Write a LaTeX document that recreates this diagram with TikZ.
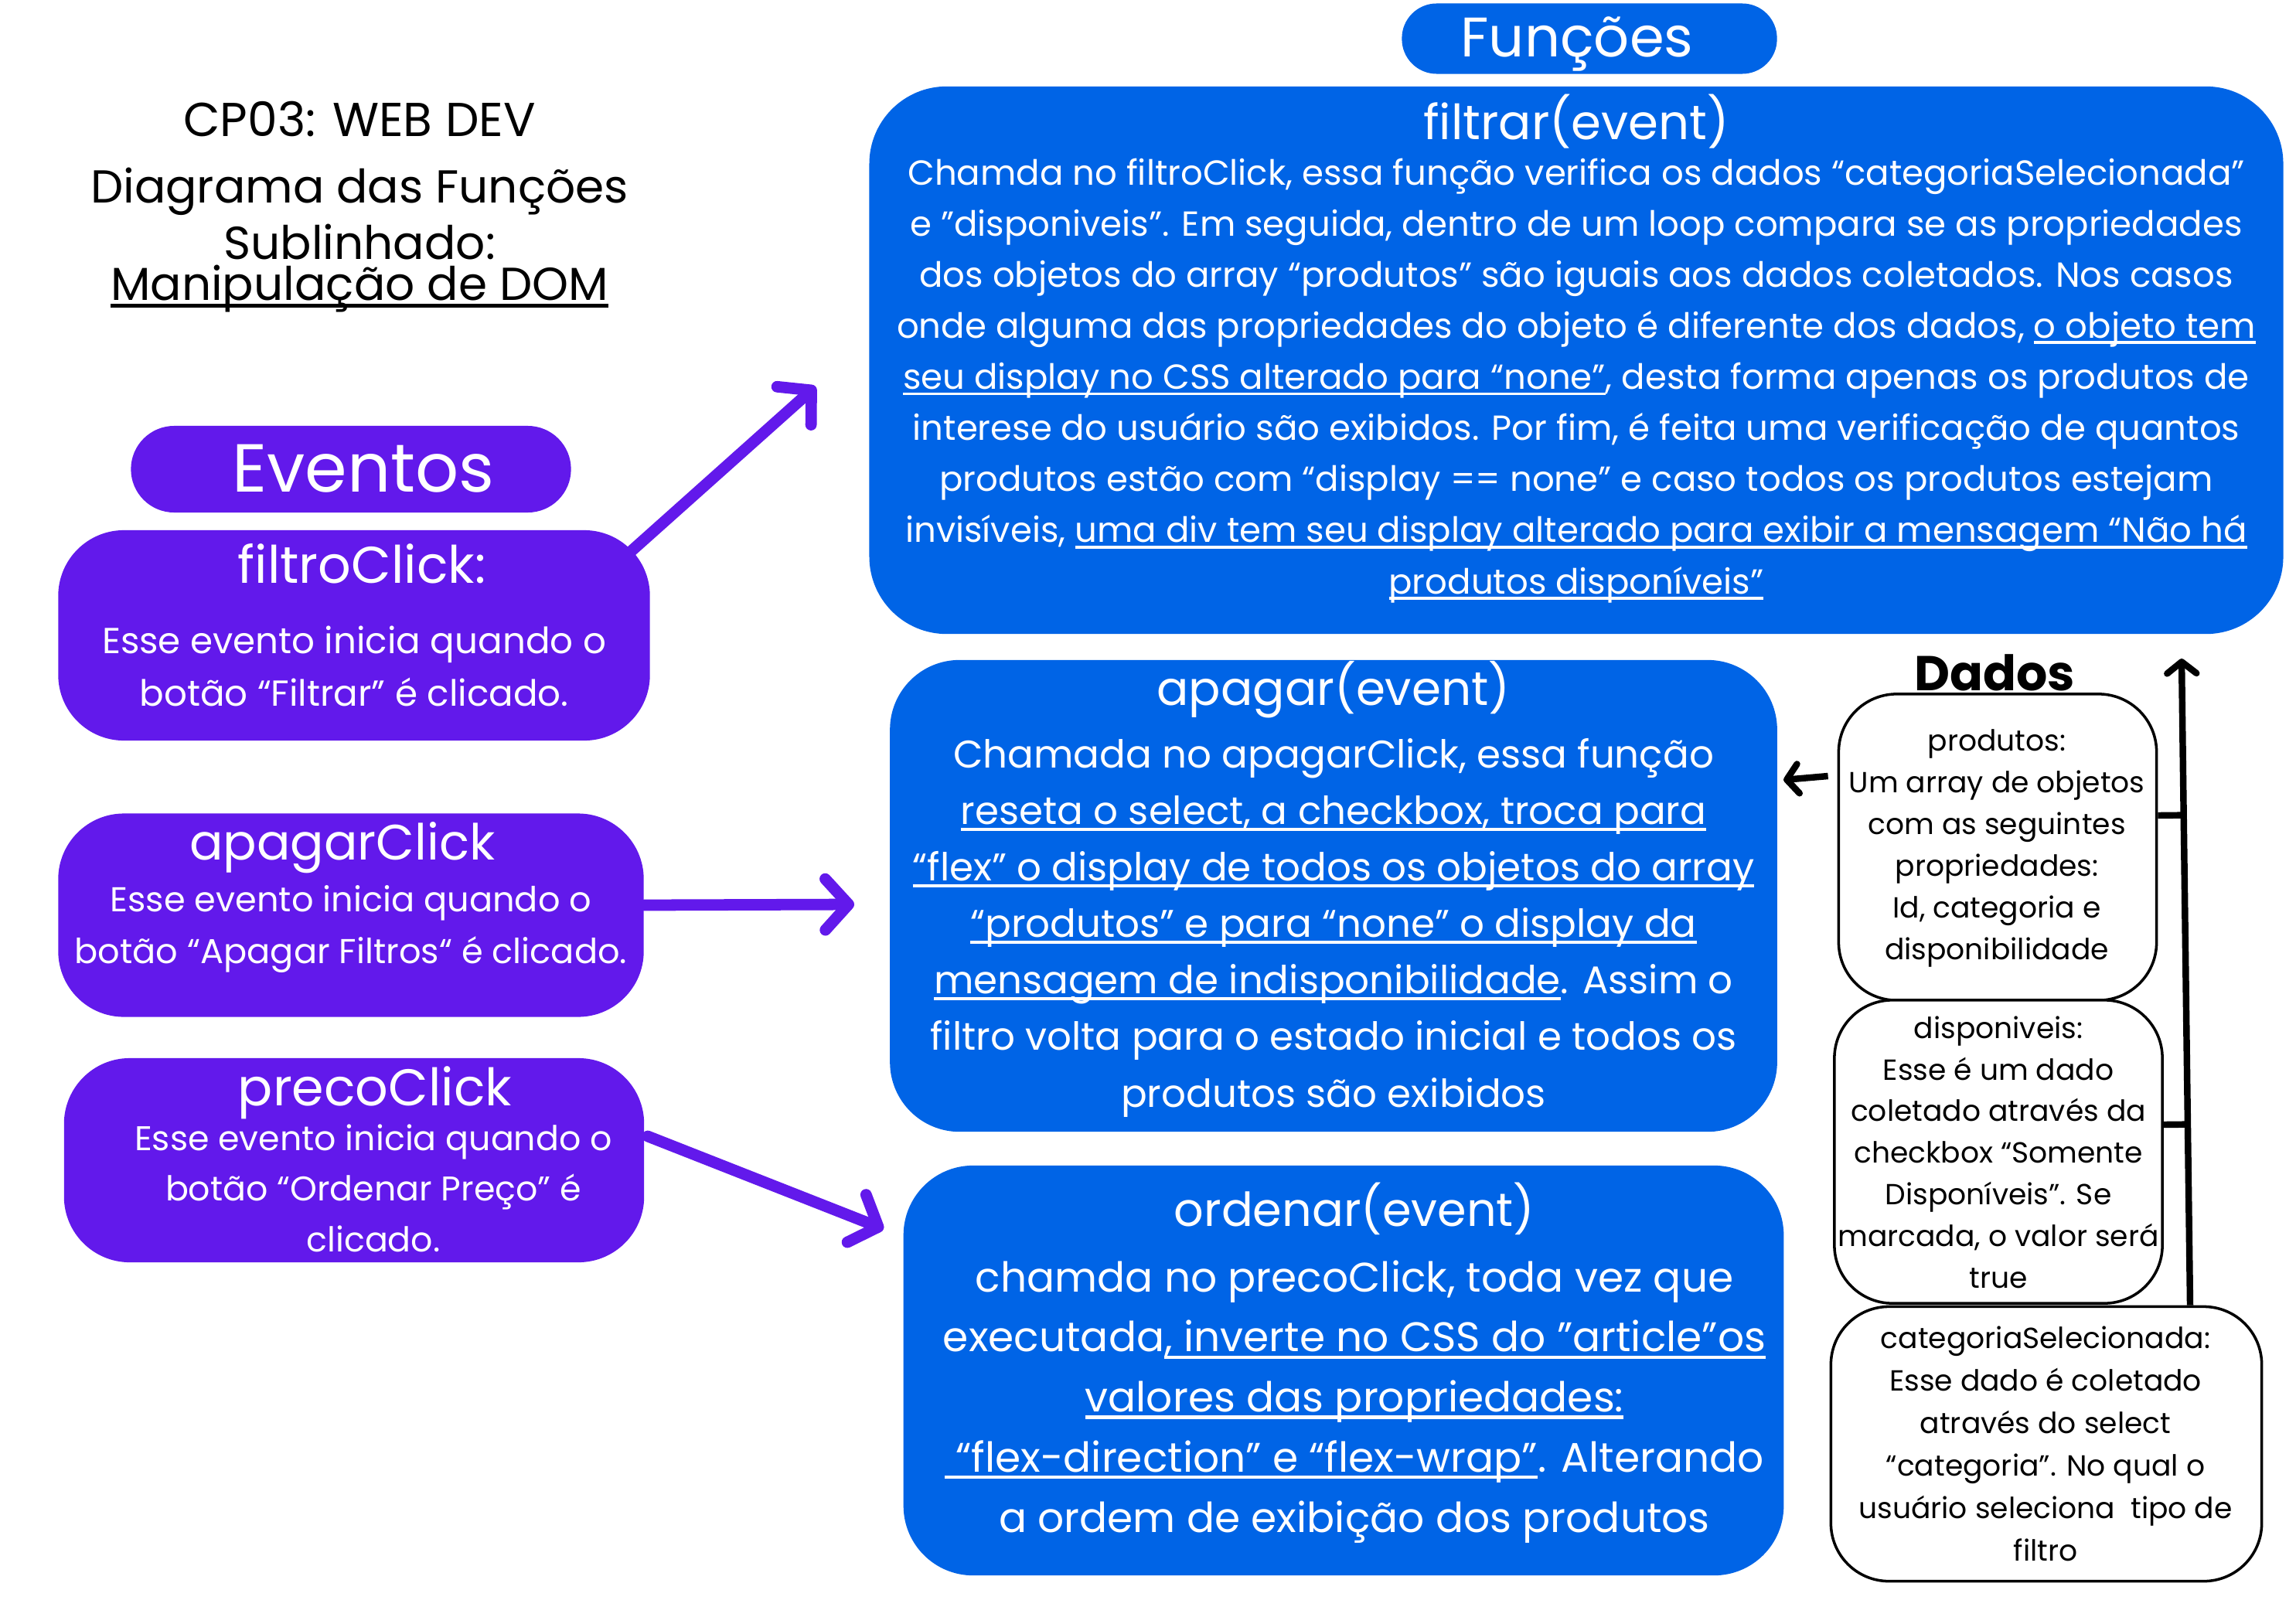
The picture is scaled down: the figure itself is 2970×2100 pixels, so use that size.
\documentclass[tikz,border=0pt]{standalone}
\usepackage{fontspec}
\setmainfont{Poppins}
\usetikzlibrary{arrows.meta,calc}
\definecolor{fblue}{HTML}{0064E6}
\definecolor{epurple}{HTML}{6219EB}
\newcommand\fs[2]{\fontsize{#1pt}{#2pt}\selectfont}
\newcommand\ul[1]{\leavevmode\setbox0=\hbox{#1}\rlap{\vrule width\wd0 height -0.09em depth 0.17em}\box0}
\begin{document}
\begin{tikzpicture}[x=0.01cm,y=-0.01cm,
  bluebox/.style={rectangle,fill=fblue,draw=none,rounded corners=#1,inner sep=0pt},
  purplebox/.style={rectangle,fill=epurple,draw=none,rounded corners=#1,inner sep=0pt},
  databox/.style={rectangle,fill=white,draw=black,line width=1pt,rounded corners=0.75cm,inner sep=0pt},
  wtxt/.style={text=white,align=center,inner sep=0pt,anchor=base},
  btxt/.style={text=black,align=center,inner sep=0pt,anchor=base},
  parrow/.style={draw=epurple,line width=4.2pt,line cap=round,-{Straight Barb[length=0.3cm,width=0.66cm,round]}},
  karrow/.style={draw=black,line width=2.4pt,-{Straight Barb[length=0.15cm,width=0.38cm,round]}},
  kline/.style={draw=black,line width=2.4pt}]
\fill[white] (0,0) rectangle (2970,2100);
\useasboundingbox (0,0) rectangle (2970,2100);

% title (anchor base = last line baseline)
\node[btxt,font=\fs{17.5}{20}] (t1) at (465,176) {CP03: WEB DEV};
\node[btxt,font=\fs{17}{20}] (t2) at (465,262) {Diagrama das Funções};
\node[btxt,font=\fs{17}{20}] (t3) at (465,335) {Sublinhado:};
\node[btxt,font=\fs{17}{20}] (t4) at (465,388) {\ul{Manipulação de DOM}};

% Funcoes
\node[bluebox=0.45cm,minimum width=4.85cm,minimum height=0.91cm] (funcoes) at (2056,50) {};
\node[wtxt,font=\fs{20.5}{24}] (funcoesT) at (2040,74) {Funções};

\node[bluebox=1cm,minimum width=18.28cm,minimum height=7.08cm] (filtrar) at (2039,466) {};
\node[wtxt,font=\fs{17.8}{20}] (filtrarT) at (2039,180) {filtrar(event)};
\node[wtxt,font=\fs{12.8}{18.8}] (filtrarB) at (2039,768) {Chamda no filtroClick, essa função verifica os dados “categoriaSelecionada”\\
e ”disponiveis”. Em seguida, dentro de um loop compara se as propriedades\\
dos objetos do array “produtos” são iguais aos dados coletados. Nos casos\\
onde alguma das propriedades do objeto é diferente dos dados, \ul{o objeto tem}\\
\ul{seu display no CSS alterado para “none”}, desta forma apenas os produtos de\\
interese do usuário são exibidos. Por fim, é feita uma verificação de quantos\\
produtos estão com “display == none” e caso todos os produtos estejam\\
invisíveis, \ul{uma div tem seu display alterado para exibir a mensagem “Não há}\\
\ul{produtos disponíveis”}};

\node[bluebox=0.9cm,minimum width=11.47cm,minimum height=6.1cm] (apagar) at (1725,1159) {};
\node[wtxt,font=\fs{17.4}{21}] (apagarT) at (1725,912) {apagar(event)};
\node[wtxt,font=\fs{14.2}{20.8}] (apagarB) at (1725,1432) {Chamada no apagarClick, essa função\\
\ul{reseta o select, a checkbox, troca para}\\
\ul{“flex” o display de todos os objetos do array}\\
\ul{“produtos” e para “none” o display da}\\
\ul{mensagem de indisponibilidade}. Assim o\\
filtro volta para o estado inicial e todos os\\
produtos são exibidos};

\node[bluebox=0.9cm,minimum width=11.38cm,minimum height=5.3cm] (ordenar) at (1738,1773) {};
\node[wtxt,font=\fs{17.2}{21}] (ordenarT) at (1752,1586) {ordenar(event)};
\node[wtxt,font=\fs{15.2}{22.1}] (ordenarB) at (1752,1982) {chamda no precoClick, toda vez que\\
executada\ul{, inverte no CSS do ”article”os}\\
\ul{valores das propriedades:}\\
\ul{~“flex-direction” e “flex-wrap”}. Alterando\\
a ordem de exibição dos produtos};

% Eventos
\node[purplebox=0.56cm,minimum width=5.69cm,minimum height=1.12cm] (eventos) at (454,607) {};
\node[wtxt,font=\fs{25}{28}] (eventosT) at (470,636) {Eventos};

\node[purplebox=0.85cm,minimum width=7.65cm,minimum height=2.72cm] (fc) at (458,822) {};
\node[wtxt,font=\fs{19}{22}] (fcT) at (468,754) {filtroClick:};
\node[wtxt,font=\fs{13.3}{19.3}] (fcB) at (458,913) {Esse evento inicia quando o\\botão “Filtrar” é clicado.};

\node[purplebox=0.85cm,minimum width=7.57cm,minimum height=2.63cm] (ac) at (454,1184) {};
\node[wtxt,font=\fs{18.3}{22}] (acT) at (443,1112) {apagarClick};
\node[wtxt,font=\fs{12.7}{18.8}] (acB) at (454,1246) {Esse evento inicia quando o\\botão “Apagar Filtros“ é clicado.};

\node[purplebox=0.85cm,minimum width=7.5cm,minimum height=2.64cm] (pc) at (458,1501) {};
\node[wtxt,font=\fs{19}{22}] (pcT) at (485,1430) {precoClick};
\node[wtxt,font=\fs{12.6}{18.5}] (pcB) at (483,1619) {Esse evento inicia quando o\\botão “Ordenar Preço” é\\clicado.};

% Dados
\node[btxt,font=\bfseries\fs{18}{21}] (dados) at (2580,893) {Dados};
\node[databox,minimum width=4.11cm,minimum height=3.96cm] (prod) at (2584,1096) {};
\node[btxt,font=\fs{10.7}{15.3}] (prodT) at (2583,1241) {produtos:\\Um array de objetos\\com as seguintes\\propriedades:\\Id, categoria e\\disponibilidade};
\node[databox,minimum width=4.24cm,minimum height=3.92cm] (disp) at (2585,1490) {};
\node[btxt,font=\fs{10.7}{15.3}] (dispT) at (2585,1666) {disponiveis:\\Esse é um dado\\coletado através da\\checkbox “Somente\\Disponíveis”. Se\\marcada, o valor será\\true};
\node[databox,minimum width=5.57cm,minimum height=3.55cm] (cat) at (2647,1868) {};
\node[btxt,font=\fs{10.7}{15.6}] (catT) at (2646,2019) {categoriaSelecionada:\\Esse dado é coletado\\através do select\\“categoria”. No qual o\\usuário seleciona~ tipo de\\filtro};

% black connectors
\coordinate (vtop) at (2822,852);
\coordinate (vbot) at ($(cat.north)+(186,0)$);
\draw[karrow] (vbot) -- (vtop);
\coordinate (pb) at ($(prod.east)+(0,-41)$);
\coordinate (db) at ($(disp.east)+(0,-35)$);
\draw[kline] (pb) -- ($(vbot)!(pb)!(vtop)$);
\draw[kline] (db) -- ($(vbot)!(db)!(vtop)$);
\coordinate (lt) at (2307,1009);
\draw[karrow] ($(prod.west)+(-12,-92)$) -- (lt);

% purple arrows
\coordinate (a1) at (1055,500);
\coordinate (a2) at (1105,1170);
\coordinate (a3) at (1143,1590);
\draw[parrow] ($(fc.north east)+(-24,27)$) -- (a1);
\draw[parrow] ($(ac.east)+(0,-13)$) -- (a2);
\draw[parrow] ($(pc.east)+(4,-31)$) -- (a3);
\end{tikzpicture}
\end{document}
